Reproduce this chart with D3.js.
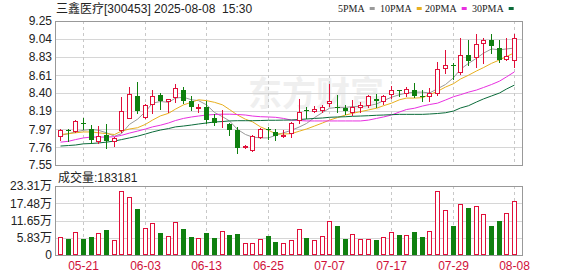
<!DOCTYPE html>
<html>
<head>
<meta charset="utf-8">
<script src="https://cdn.jsdelivr.net/npm/d3@7"></script>
<style>
body { margin: 0; background: #fff; }
svg { display: block; font-family: "Liberation Sans", "Noto Sans CJK SC", sans-serif; }
</style>
</head>
<body>
<div class="kline"></div>
<script>
const width = 578;
const height = 276;

// trading days shown
const dates = ['05-16','05-19','05-20','05-21','05-22','05-23','05-26','05-27','05-28','05-29','05-30',
  '06-03','06-04','06-05','06-06','06-09','06-10','06-11','06-12','06-13','06-16','06-17','06-18','06-19','06-20',
  '06-23','06-24','06-25','06-26','06-27','06-30','07-01','07-02','07-03','07-04','07-07','07-08','07-09','07-10',
  '07-11','07-14','07-15','07-16','07-17','07-18','07-21','07-22','07-23','07-24','07-25','07-28','07-29','07-30',
  '07-31','08-01','08-04','08-05','08-06','08-07','08-08'];

const open  = [7.89,7.96,7.95,8.04,7.98,7.83,7.91,7.83,7.96,8.11,8.36,8.12,8.27,8.38,8.30,8.35,8.43,8.30,8.22,8.23,
  8.10,8.04,8.03,7.96,7.76,7.73,7.88,7.98,7.94,7.89,7.93,8.08,8.20,8.19,8.20,8.28,8.23,8.22,8.17,8.24,
  8.26,8.33,8.30,8.39,8.44,8.40,8.44,8.37,8.36,8.40,8.70,8.73,8.65,8.85,8.83,8.99,9.03,8.93,8.80,8.79];
const high  = [7.98,7.98,8.08,8.10,8.02,8.01,8.03,7.88,8.35,8.47,8.53,8.27,8.44,8.40,8.33,8.51,8.47,8.36,8.27,8.30,
  8.15,8.20,8.04,8.00,7.79,7.90,7.99,8.00,7.98,7.96,8.06,8.33,8.23,8.25,8.26,8.51,8.38,8.26,8.32,8.29,
  8.38,8.39,8.38,8.48,8.44,8.47,8.52,8.43,8.46,8.77,8.91,8.75,9.05,9.03,9.10,9.05,9.10,9.03,9.05,9.10];
const low   = [7.85,7.83,7.94,7.98,7.81,7.81,7.75,7.77,7.94,8.10,8.16,8.11,8.16,8.21,8.17,8.29,8.28,8.20,8.18,8.04,
  8.02,8.00,7.90,7.69,7.75,7.72,7.87,7.86,7.84,7.88,7.88,8.04,8.11,8.17,8.17,8.25,8.17,8.15,8.14,8.17,
  8.24,8.23,8.27,8.34,8.36,8.36,8.35,8.30,8.30,8.38,8.64,8.57,8.63,8.73,8.71,8.76,8.87,8.77,8.79,8.71];
const close = [7.96,7.95,8.07,8.03,7.84,7.89,7.83,7.87,8.19,8.39,8.19,8.26,8.36,8.30,8.33,8.46,8.30,8.23,8.23,8.08,
  8.04,8.05,7.96,7.75,7.78,7.89,7.98,7.96,7.89,7.91,8.04,8.18,8.19,8.21,8.23,8.30,8.22,8.19,8.24,8.26,
  8.36,8.30,8.37,8.44,8.43,8.45,8.36,8.35,8.40,8.68,8.73,8.72,8.85,8.78,8.98,9.03,8.95,8.79,8.84,9.05];

const volume = [60400,54600,77500,54600,60400,74000,85300,51200,216000,197000,157000,91000,108000,74000,62500,
  111500,88000,60400,57000,74000,57000,80500,68000,70600,40000,40000,53600,62500,43300,40000,
  51200,87700,57000,51200,62500,116000,99000,54600,70600,54600,54600,51200,60400,77500,68300,
  68300,78500,60400,80900,216000,151000,99000,173000,159000,165000,139000,99000,114000,142000,183181];

const ma5  = [7.90,7.92,7.94,7.96,7.97,7.96,7.93,7.89,7.92,8.03,8.09,8.18,8.28,8.30,8.29,8.34,8.35,8.32,8.31,8.26,
  8.17,8.12,8.07,7.97,7.91,7.88,7.87,7.87,7.90,7.93,7.96,8.00,8.04,8.11,8.17,8.22,8.23,8.23,8.24,8.24,
  8.25,8.27,8.31,8.35,8.38,8.40,8.41,8.41,8.40,8.45,8.50,8.58,8.68,8.75,8.81,8.87,8.92,8.91,8.92,8.93];
const ma10 = [7.91,7.92,7.93,7.94,7.94,7.93,7.92,7.91,7.95,7.975,7.99,8.03,8.08,8.13,8.16,8.21,8.26,8.29,8.32,8.31,
  8.29,8.26,8.205,8.14,8.09,8.06,8.00,7.96,7.92,7.916,7.92,7.95,7.975,8.01,8.046,8.08,8.11,8.14,8.16,8.18,
  8.20,8.22,8.25,8.28,8.32,8.34,8.34,8.345,8.38,8.42,8.47,8.51,8.565,8.61,8.66,8.70,8.75,8.79,8.83,8.876];
const ma20 = [7.82,7.83,7.85,7.87,7.88,7.88,7.88,7.884,7.90,7.927,7.95,7.975,8.00,8.02,8.046,8.075,8.10,8.117,8.128,8.14,
  8.146,8.15,8.15,8.146,8.14,8.128,8.12,8.117,8.113,8.10,8.08,8.075,8.07,8.07,8.07,8.07,8.07,8.07,8.07,8.07,
  8.08,8.10,8.117,8.14,8.176,8.205,8.22,8.246,8.264,8.28,8.317,8.356,8.38,8.41,8.435,8.465,8.50,8.54,8.59,8.65];
const ma30 = [7.774,7.78,7.786,7.80,7.804,7.81,7.82,7.833,7.85,7.87,7.89,7.916,7.94,7.963,7.98,8.00,8.01,8.022,8.034,8.046,
  8.058,8.063,8.07,8.073,8.073,8.073,8.075,8.078,8.078,8.08,8.081,8.087,8.093,8.10,8.105,8.113,8.117,8.12,8.125,8.128,
  8.132,8.137,8.14,8.144,8.148,8.148,8.148,8.148,8.152,8.158,8.167,8.187,8.223,8.25,8.294,8.33,8.365,8.40,8.447,8.494];

const priceTicks = [9.25, 9.04, 8.83, 8.61, 8.40, 8.19, 7.97, 7.76, 7.55];
const volTicks = [0, 58275, 116550, 174825, 233100];
const xTicks = ['05-21','06-03','06-13','06-25','07-07','07-17','07-29','08-08'];
const maNames = ['5PMA','10PMA','20PMA','30PMA'];
const maColors = ['#9a9a9a','#e8b020','#e830e0','#0b6b3a'];

const UP = '#e0103a';
const DOWN = '#0f800f';

const left = 55, right = 523;
const pTop = 21, pBot = 165;
const vTop = 186, vBot = 255;

const svg = d3.select('.kline')
    .append('svg')
    .attr('width', width)
    .attr('height', height)

const x = d3.scaleBand().domain(dates).range([56, 518])
const cx = d => Math.round(x(d) + x.bandwidth() / 2) + 0.5
const y = d3.scaleLinear().domain([7.55, 9.25]).range([pBot, pTop])
const yv = d3.scaleLinear().domain([0, 233100]).range([vBot, vTop])

const candles = dates.map((d, i) => ({
    date: d, o: open[i], h: high[i], l: low[i], c: close[i], v: volume[i], up: close[i] >= open[i]
}))

// watermark
svg.append('text')
    .attr('x', 248).attr('y', 106)
    .attr('font-size', 34).attr('font-weight', 'bold')
    .attr('font-family', '"Noto Sans CJK SC", sans-serif')
    .attr('fill', '#efefef')
    .text('东方财富')

// grid: price panel
svg.append('g')
    .selectAll('line')
    .data(priceTicks)
    .enter()
    .append('line')
    .attr('x1', left).attr('x2', right)
    .attr('y1', d => Math.round(y(d)) + 0.5).attr('y2', d => Math.round(y(d)) + 0.5)
    .attr('stroke', '#d6d6d6')

svg.append('g')
    .selectAll('line')
    .data(volTicks)
    .enter()
    .append('line')
    .attr('x1', left).attr('x2', right)
    .attr('y1', d => Math.round(yv(d)) + 0.5).attr('y2', d => Math.round(yv(d)) + 0.5)
    .attr('stroke', '#d6d6d6')

const vgrid = svg.append('g').selectAll('g').data(xTicks).enter().append('g')
vgrid.append('line')
    .attr('x1', d => cx(d)).attr('x2', d => cx(d))
    .attr('y1', pTop).attr('y2', pBot)
    .attr('stroke', '#c8c8c8').attr('stroke-dasharray', '3,3')
vgrid.append('line')
    .attr('x1', d => cx(d)).attr('x2', d => cx(d))
    .attr('y1', vTop).attr('y2', vBot)
    .attr('stroke', '#c8c8c8').attr('stroke-dasharray', '3,3')

// panel borders
svg.append('rect')
    .attr('x', left + 0.5).attr('y', pTop + 0.5)
    .attr('width', right - left - 1).attr('height', pBot - pTop)
    .attr('fill', 'none').attr('stroke', '#999')
svg.append('rect')
    .attr('x', left + 0.5).attr('y', vTop + 0.5)
    .attr('width', right - left - 1).attr('height', vBot - vTop)
    .attr('fill', 'none').attr('stroke', '#999')

// moving averages
const maData = [ma5, ma10, ma20, ma30]
const line = d3.line().x((v, i) => cx(dates[i])).y(v => y(v))
svg.append('g')
    .selectAll('path')
    .data(maData)
    .enter()
    .append('path')
    .attr('d', d => line(d))
    .attr('fill', 'none')
    .attr('stroke', (d, i) => maColors[i])
    .attr('stroke-width', 1)

// candles
const k = svg.append('g').selectAll('g').data(candles).enter().append('g')
k.append('line')
    .attr('x1', d => cx(d.date)).attr('x2', d => cx(d.date))
    .attr('y1', d => Math.round(y(d.h))).attr('y2', d => Math.round(y(d.l)) + 1)
    .attr('stroke', d => d.up ? UP : DOWN)
k.append('rect')
    .attr('x', d => d.up ? cx(d.date) - 2 : cx(d.date) - 2.5)
    .attr('y', d => d.up ? Math.round(y(Math.max(d.o, d.c))) + 0.5 : Math.round(y(Math.max(d.o, d.c))))
    .attr('width', d => d.up ? 4 : 5)
    .attr('height', d => {
        const hgt = Math.round(y(Math.min(d.o, d.c))) - Math.round(y(Math.max(d.o, d.c)))
        return d.up ? Math.max(hgt, 0) : Math.max(hgt, 1)
    })
    .attr('fill', d => d.up ? '#fff' : DOWN)
    .attr('stroke', d => d.up ? UP : 'none')

// volume bars
svg.append('g')
    .selectAll('rect')
    .data(candles)
    .enter()
    .append('rect')
    .attr('x', d => d.up ? cx(d.date) - 2 : cx(d.date) - 2.5)
    .attr('y', d => d.up ? Math.round(yv(d.v)) + 0.5 : Math.round(yv(d.v)))
    .attr('width', d => d.up ? 4 : 5)
    .attr('height', d => d.up ? vBot - Math.round(yv(d.v)) - 1 : vBot - Math.round(yv(d.v)))
    .attr('fill', d => d.up ? '#fff' : DOWN)
    .attr('stroke', d => d.up ? UP : 'none')

// axes labels
svg.append('g')
    .selectAll('text')
    .data(priceTicks)
    .enter()
    .append('text')
    .attr('x', 52).attr('y', d => y(d))
    .attr('dy', '0.36em')
    .attr('text-anchor', 'end')
    .attr('font-size', 12)
    .attr('fill', '#222')
    .text(d => d.toFixed(2))

svg.append('g')
    .selectAll('text')
    .data(volTicks)
    .enter()
    .append('text')
    .attr('x', 52).attr('y', d => yv(d))
    .attr('dy', '0.36em')
    .attr('text-anchor', 'end')
    .attr('font-size', 12)
    .attr('fill', '#222')
    .text(d => d === 0 ? '0' : (d / 10000).toFixed(2) + '万')

svg.append('g')
    .selectAll('text')
    .data(xTicks)
    .enter()
    .append('text')
    .attr('x', d => cx(d)).attr('y', 270)
    .attr('text-anchor', 'middle')
    .attr('font-size', 12)
    .attr('fill', '#d0103a')
    .text(d => d)

// header
svg.append('text')
    .attr('x', 56).attr('y', 13)
    .attr('font-size', 12)
    .attr('fill', '#222')
    .attr('xml:space', 'preserve')
    .text('三鑫医疗[300453] 2025-08-08  15:30')

svg.append('text')
    .attr('x', 58).attr('y', 181.5)
    .attr('font-size', 12)
    .attr('fill', '#222')
    .text('成交量:' + volume[volume.length - 1])

// legend
const legX = [338, 380, 425, 472]
const leg = svg.append('g').selectAll('g').data(maNames).enter().append('g')
    .attr('transform', (d, i) => `translate(${legX[i]},0)`)
const legText = leg.append('text')
    .attr('y', 12)
    .attr('font-size', 10)
    .attr('font-family', '"Liberation Serif", serif')
    .attr('fill', '#222')
    .text(d => d)
legText.each(function (d, i) {
    const w = this.getComputedTextLength()
    d3.select(this.parentNode).append('rect')
        .attr('x', w + 5).attr('y', 7)
        .attr('width', 5).attr('height', 3)
        .attr('fill', maColors[i])
})
</script>
</body>
</html>
